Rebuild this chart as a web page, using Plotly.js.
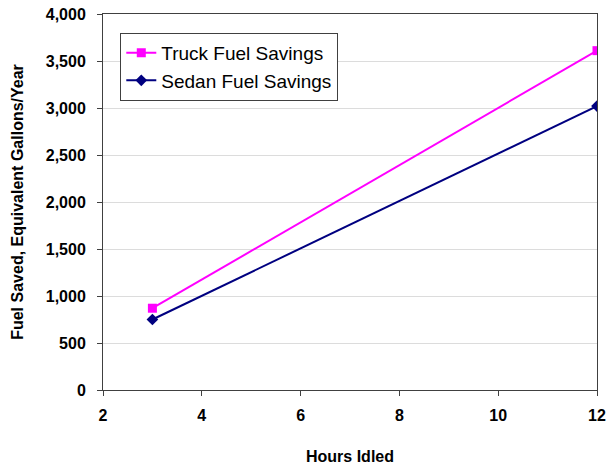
<!DOCTYPE html>
<html><head><meta charset="utf-8">
<script src="https://cdn.plot.ly/plotly-3.0.1.min.js"></script>
<style>html,body{margin:0;padding:0;background:#fff}#chart{width:610px;height:465px}</style>
</head><body><div id="chart"></div>
<script>
const hours = [3, 12];
const truckSavings = [870, 3610];
const sedanSavings = [750, 3020];
const seriesNames = ["Truck Fuel Savings", "Sedan Fuel Savings"];
const xTicks = [2, 4, 6, 8, 10, 12];
const yTicks = [0, 500, 1000, 1500, 2000, 2500, 3000, 3500, 4000];

const data = [
  {x: hours, y: truckSavings, name: seriesNames[0], type: "scatter", mode: "lines+markers",
   line: {color: "#FF00FF", width: 2}, marker: {symbol: "square", size: 9, color: "#FF00FF"}},
  {x: hours, y: sedanSavings, name: seriesNames[1], type: "scatter", mode: "lines+markers",
   line: {color: "#000080", width: 2}, marker: {symbol: "diamond", size: 9, color: "#000080"}}
];
const layout = {
  width: 610, height: 465,
  margin: {l: 103, r: 13, t: 14, b: 75},
  paper_bgcolor: "#fff", plot_bgcolor: "#fff",
  font: {family: "Arial, Liberation Sans, sans-serif", color: "#000"},
  showlegend: true,
  legend: {x: 0.035, y: 0.95, xanchor: "left", yanchor: "top", bgcolor: "#fff",
    bordercolor: "#404040", borderwidth: 1, font: {size: 19}, itemwidth: 30, tracegroupgap: 6},
  xaxis: {range: [2, 12], tickvals: xTicks, ticktext: xTicks.map(v => "<b>" + v + "</b>"),
    ticks: "outside", ticklen: 5, tickcolor: "#404040", ticklabelstandoff: 6,
    showline: true, linecolor: "#404040", linewidth: 1, mirror: true, showgrid: false, zeroline: false,
    tickfont: {size: 16},
    title: {text: "<b>Hours Idled</b>", font: {size: 16}, standoff: 28}},
  yaxis: {range: [0, 4000], tickvals: yTicks, ticktext: yTicks.map(v => "<b>" + v.toLocaleString("en-US") + "</b>"),
    ticks: "outside", ticklen: 5, tickcolor: "#404040", ticklabelstandoff: 8,
    showline: true, linecolor: "#404040", linewidth: 1, mirror: true, showgrid: true, gridcolor: "#dcdcdc",
    zeroline: false,
    tickfont: {size: 16},
    title: {text: "<b>Fuel Saved, Equivalent Gallons/Year</b>", font: {size: 16}, standoff: 18}}
};
Plotly.newPlot("chart", data, layout, {displayModeBar: false});
</script></body></html>
